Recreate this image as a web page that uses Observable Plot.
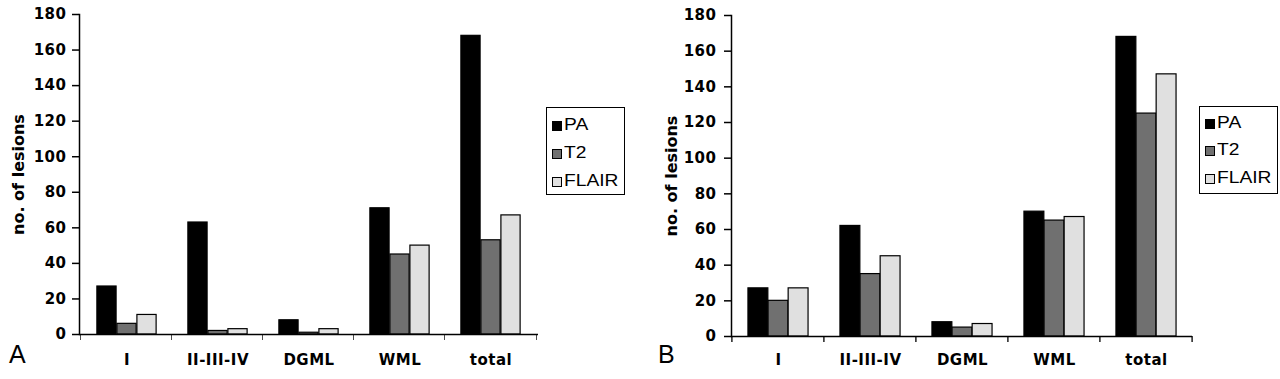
<!DOCTYPE html>
<html>
<head>
<meta charset="utf-8">
<script src="https://cdn.jsdelivr.net/npm/d3@7"></script>
<script src="https://cdn.jsdelivr.net/npm/@observablehq/plot@0.6"></script>
<style>
  html, body { margin: 0; padding: 0; background: #fff; }
  #wrap { display: flex; width: 1280px; height: 379px; }
  .panel { position: relative; width: 640px; height: 379px; }
  .panel svg text { font-family: "DejaVu Sans", sans-serif; font-weight: 700; }
  .panel svg g[aria-label="y-axis tick label"] text,
  .panel svg g[aria-label="x-axis tick label"] text { letter-spacing: 0.5px; }
  .letter { position: absolute; font-family: "Liberation Sans", Arial, sans-serif; font-size: 25px; line-height: 25px; color: #000; }
  .legend { position: absolute; box-sizing: border-box; border: 1.5px solid #000; background: #fff; }
  .row { position: absolute; left: 0; height: 16px; }
  .sw { position: absolute; left: 5px; top: 3px; width: 8px; height: 8px; border: 1px solid #000; }
  .lt { position: absolute; left: 17px; top: -1px; font-family: "Liberation Sans", Arial, sans-serif; font-size: 16px; line-height: 16px; white-space: nowrap; transform: scaleX(1.2); transform-origin: left center; }
</style>
</head>
<body>
<div id="wrap"></div>
<script>
const categories = ["I", "II-III-IV", "DGML", "WML", "total"];
const series = ["PA", "T2", "FLAIR"];
const colors = ["#000000", "#707070", "#e0e0e0"];
const yTicks = [0, 20, 40, 60, 80, 100, 120, 140, 160, 180];
const yLabel = "no. of lesions";
const panelLetters = ["A", "B"];

// Panel A values
const A_PA = [27, 63, 8, 71, 168];
const A_T2 = [6, 2, 1, 45, 53];
const A_FLAIR = [11, 3, 3, 50, 67];
// Panel B values
const B_PA = [27, 62, 8, 70, 168];
const B_T2 = [20, 35, 5, 65, 125];
const B_FLAIR = [27, 45, 7, 67, 147];

const panels = [
  {letter: panelLetters[0], values: [A_PA, A_T2, A_FLAIR],
   m: {l: 79, r: 102, t: 14, b: 45}, ylabX: 18, tickPad: 6, catPad: 20,
   letterPos: {left: 9, top: 342}, legend: {left: 546, top: 107, w: 79, h: 88, rows: [18, 46, 74]}},
  {letter: panelLetters[1], values: [B_PA, B_T2, B_FLAIR],
   m: {l: 91, r: 88, t: 15, b: 43}, ylabX: 31, tickPad: 8, catPad: 18,
   letterPos: {left: 18, top: 342}, legend: {left: 559, top: 106, w: 79, h: 88, rows: [17, 44, 72]}}
];

const wrap = document.getElementById("wrap");
const W = 640, H = 379;

for (const p of panels) {
  const rows = [];
  series.forEach((s, j) => categories.forEach((c, i) => rows.push({cat: c, series: s, value: p.values[j][i]})));
  const bw = (W - p.m.l - p.m.r) / categories.length;
  const barW = bw * 0.218;
  const pad = (bw - 3 * barW) / 2;
  const frameCenterX = (p.m.l + (W - p.m.r)) / 2;

  const barMarks = series.map((s, j) => Plot.barY(rows.filter(d => d.series === s), {
    x: "cat", y: "value", fill: colors[j], stroke: "#000", strokeWidth: 1.2,
    insetLeft: pad + j * barW, insetRight: bw - pad - (j + 1) * barW
  }));

  const last = categories[categories.length - 1];
  const chart = Plot.plot({
    width: W, height: H,
    marginLeft: p.m.l, marginRight: p.m.r, marginTop: p.m.t, marginBottom: p.m.b,
    style: {fontFamily: "DejaVu Sans", fontWeight: "bold", fontSize: "15px", color: "#000", background: "transparent"},
    x: {domain: categories, padding: 0, axis: null},
    y: {domain: [0, 180], axis: null},
    marks: [
      ...barMarks,
      Plot.axisY({ticks: yTicks, tickSize: 7, tickPadding: p.tickPad, label: null, strokeWidth: 1.5, fontWeight: "bold", fontSize: 15}),
      Plot.axisX({tickSize: 0, tickPadding: p.catPad, label: null, fontWeight: "bold", fontSize: 15}),
      Plot.frame({anchor: "left", strokeWidth: 1.5}),
      Plot.ruleY([0], {strokeWidth: 1.5}),
      // category-boundary ticks below the axis (left edge of each band, plus the right end)
      Plot.barY(categories, {x: d => d, y1: 0, y2: 0, insetBottom: -6, insetLeft: -0.75, insetRight: bw - 0.75, fill: "#000"}),
      Plot.barY([last], {x: d => d, y1: 0, y2: 0, insetBottom: -6, insetLeft: bw - 0.75, insetRight: -0.75, fill: "#000"}),
      Plot.text([yLabel], {frameAnchor: "middle", textAnchor: "middle", dx: p.ylabX - frameCenterX, rotate: -90, fontSize: 16, fontWeight: "bold", text: d => d})
    ]
  });

  const panel = document.createElement("div");
  panel.className = "panel";
  panel.appendChild(chart);

  const letter = document.createElement("div");
  letter.className = "letter";
  letter.textContent = p.letter;
  letter.style.left = p.letterPos.left + "px";
  letter.style.top = p.letterPos.top + "px";
  panel.appendChild(letter);

  const lg = document.createElement("div");
  lg.className = "legend";
  Object.assign(lg.style, {left: p.legend.left + "px", top: p.legend.top + "px", width: p.legend.w + "px", height: p.legend.h + "px"});
  series.forEach((s, j) => {
    const row = document.createElement("div");
    row.className = "row";
    row.style.top = (p.legend.rows[j] - 8) + "px";
    const sw = document.createElement("div");
    sw.className = "sw";
    sw.style.background = colors[j];
    const t = document.createElement("div");
    t.className = "lt";
    t.textContent = s;
    row.appendChild(sw);
    row.appendChild(t);
    lg.appendChild(row);
  });
  panel.appendChild(lg);
  wrap.appendChild(panel);
}
</script>
</body>
</html>
